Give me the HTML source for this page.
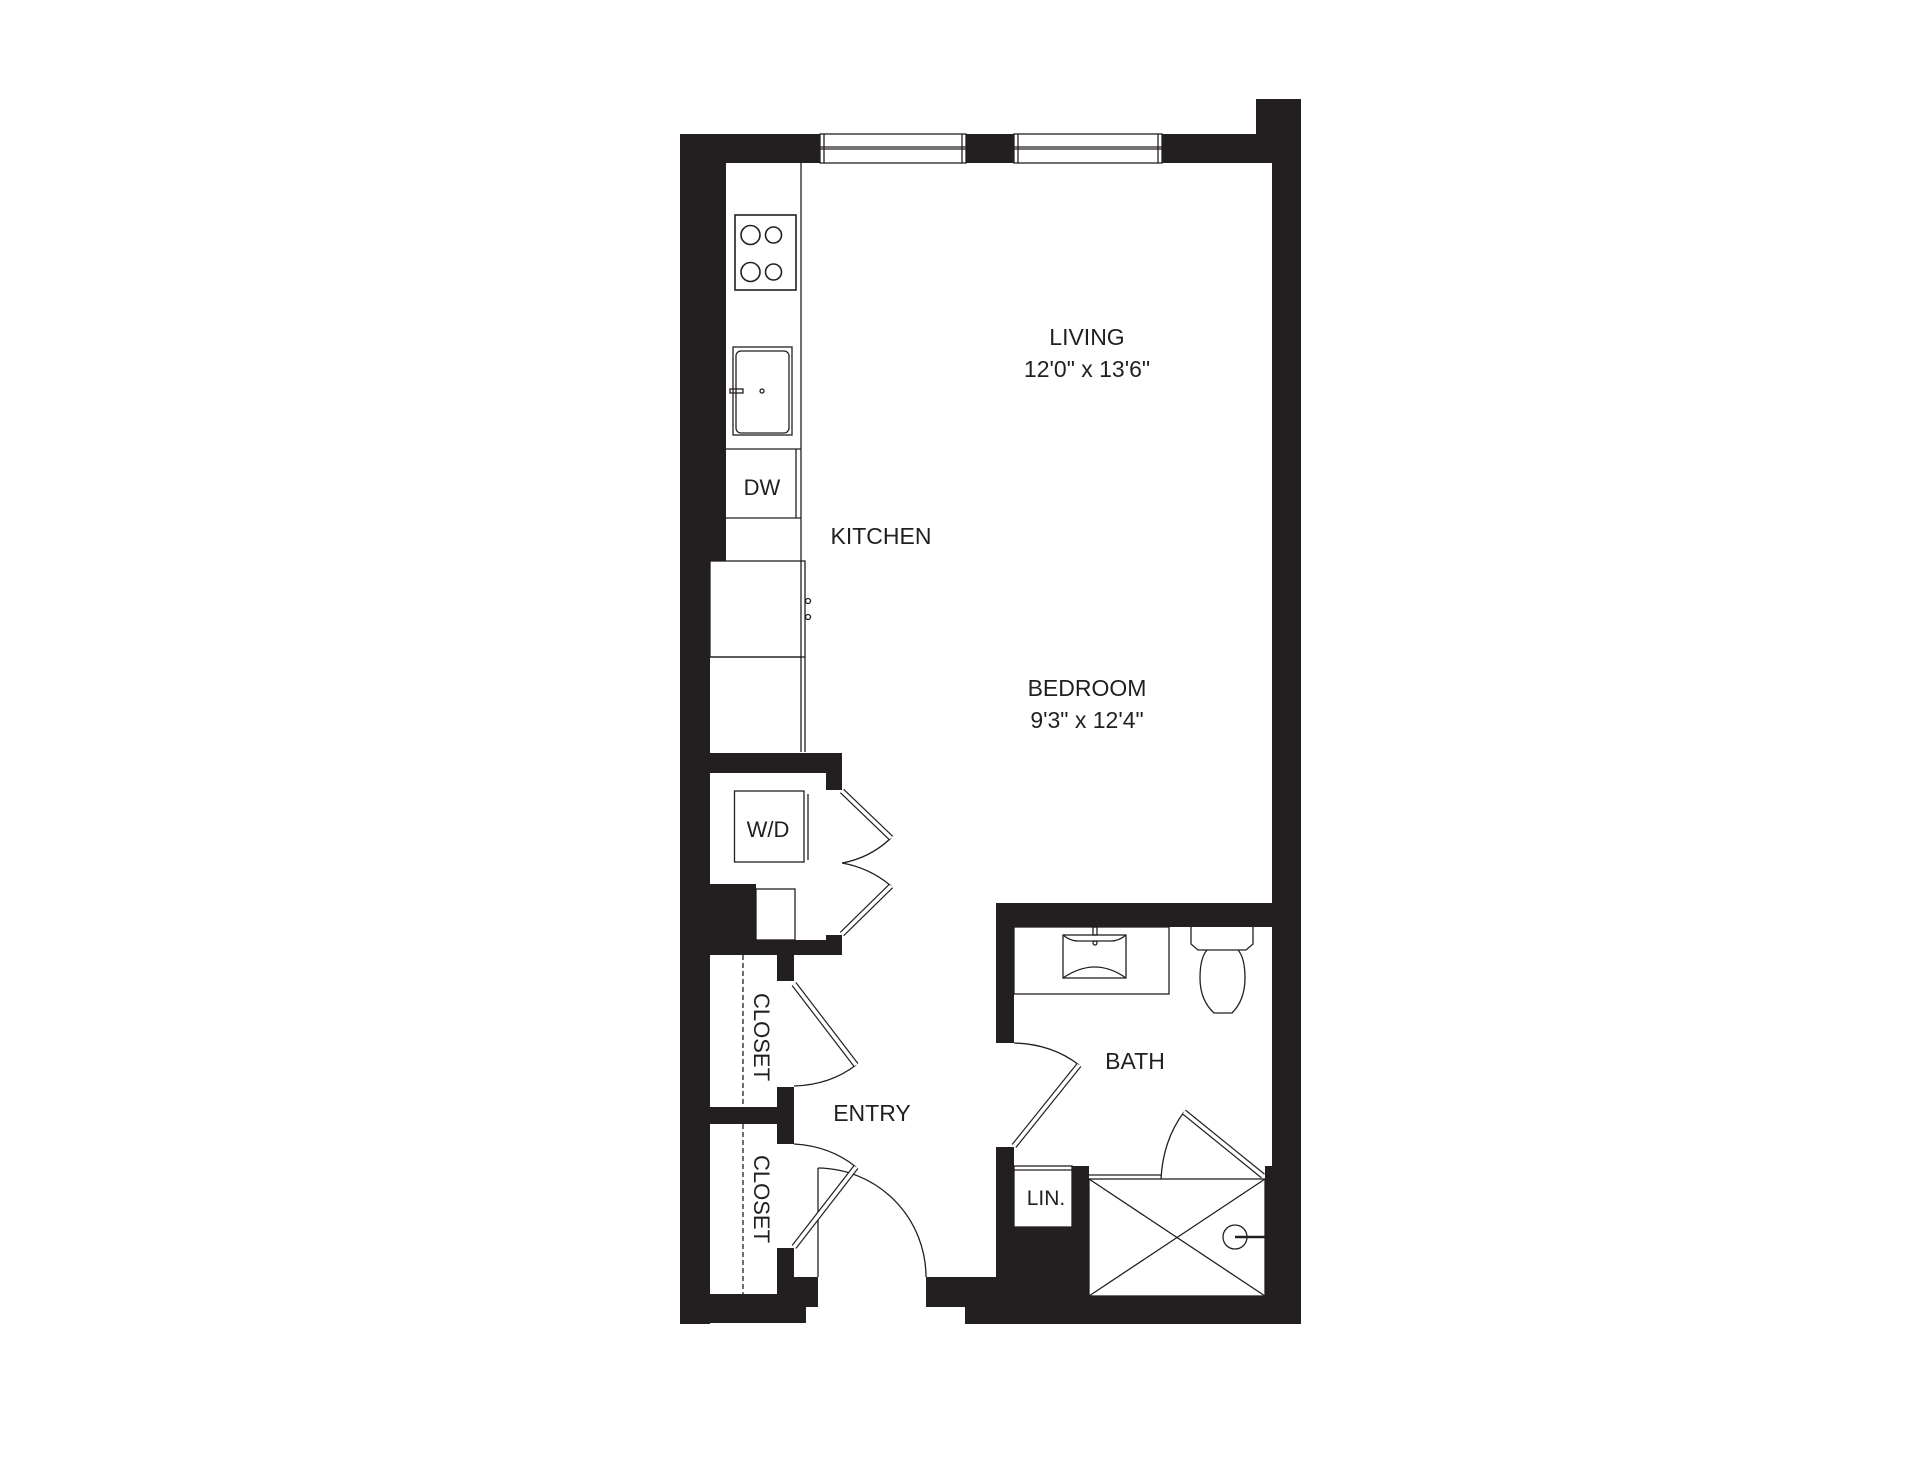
<!DOCTYPE html>
<html><head><meta charset="utf-8"><style>
html,body{margin:0;padding:0;background:#fff;}
svg{display:block;}
text{font-family:"Liberation Sans",sans-serif;fill:#231f20;}
</style></head><body>
<svg width="1920" height="1484" viewBox="0 0 1920 1484" xmlns="http://www.w3.org/2000/svg">
<g fill="#231f20">
<rect x="680" y="134" width="140" height="29"/>
<rect x="966" y="134" width="48" height="29"/>
<rect x="1162" y="134" width="139" height="29"/>
<rect x="1256" y="99" width="45" height="64"/>
<rect x="680" y="134" width="46" height="427"/>
<rect x="680" y="561" width="30" height="763"/>
<rect x="1272" y="99" width="29" height="1225"/>
<rect x="680" y="753" width="162" height="20"/>
<rect x="826" y="753" width="16" height="37"/>
<rect x="680" y="884" width="76" height="56"/>
<rect x="680" y="940" width="162" height="15"/>
<rect x="826" y="935" width="16" height="20"/>
<rect x="777" y="955" width="17" height="26"/>
<rect x="680" y="1107" width="114" height="17"/>
<rect x="777" y="1087" width="17" height="57"/>
<rect x="777" y="1248" width="17" height="46"/>
<rect x="777" y="1277" width="41" height="30"/>
<rect x="680" y="1294" width="126" height="29"/>
<rect x="680" y="1294" width="138" height="13"/>
<rect x="926" y="1277" width="70" height="30"/>
<rect x="965" y="1296" width="336" height="28"/>
<rect x="996" y="903" width="305" height="24"/>
<rect x="996" y="903" width="18" height="140"/>
<rect x="996" y="1147" width="18" height="160"/>
<rect x="1014" y="1227" width="75" height="70"/>
<rect x="1072" y="1166" width="17" height="131"/>
<rect x="1265" y="1166" width="8" height="131"/>
</g>
<g fill="none" stroke="#231f20" stroke-width="1.3">
<rect x="820" y="134" width="146" height="29"/>
<line x1="820" y1="147" x2="966" y2="147"/><line x1="820" y1="149" x2="966" y2="149"/>
<line x1="824" y1="134" x2="824" y2="163"/><line x1="962" y1="134" x2="962" y2="163"/>
<rect x="1014" y="134" width="148" height="29"/>
<line x1="1014" y1="147" x2="1162" y2="147"/><line x1="1014" y1="149" x2="1162" y2="149"/>
<line x1="1018" y1="134" x2="1018" y2="163"/><line x1="1158" y1="134" x2="1158" y2="163"/>
<line x1="801" y1="163" x2="801" y2="752"/>
<rect x="735" y="215" width="61" height="75" stroke-width="1.6"/>
<circle cx="750.5" cy="235" r="9.5" stroke-width="1.6"/><circle cx="773.5" cy="235" r="8" stroke-width="1.6"/>
<circle cx="750.5" cy="272" r="9.5" stroke-width="1.6"/><circle cx="773.5" cy="272" r="8" stroke-width="1.6"/>
<rect x="733" y="347" width="59" height="88"/>
<rect x="736" y="351" width="53" height="82" rx="5"/>
<rect x="730" y="389" width="13" height="4"/>
<circle cx="762" cy="391" r="2"/>
<line x1="726" y1="449" x2="801" y2="449"/><line x1="726" y1="518" x2="801" y2="518"/>
<line x1="796" y1="449" x2="796" y2="518"/>
<rect x="710" y="561" width="95" height="96"/>
<circle cx="808" cy="601" r="2.5"/><circle cx="808" cy="617" r="2.5"/>
<line x1="710" y1="657" x2="801" y2="657"/>
<line x1="805" y1="657" x2="805" y2="752"/>
<rect x="734.5" y="791" width="69.5" height="71"/>
<line x1="808" y1="794" x2="808" y2="860"/>
<rect x="756" y="889" width="39" height="51"/>
<line x1="743" y1="955" x2="743" y2="1107" stroke-dasharray="5,3"/>
<line x1="743" y1="1124" x2="743" y2="1294" stroke-dasharray="5,3"/>
<path d="M891 838 Q870 858 842 863"/>
<path d="M842 863 Q870 868 891 886"/>
<path d="M856 1065 Q830 1085 794 1086"/>
<path d="M794 1144 Q830 1146 856 1167"/>
<line x1="818" y1="1168" x2="818" y2="1277"/>
<path d="M818 1168 A109 109 0 0 1 926 1277"/>
<path d="M1014 1043 Q1052 1044 1079 1065"/>
<rect x="1014" y="927" width="155" height="67"/>
<rect x="1063" y="935" width="63" height="43"/>
<path d="M1063 935 Q1070 941 1078 941 L1111 941 Q1119 941 1126 935"/>
<path d="M1063 978 Q1095 956 1126 978"/>
<rect x="1093" y="927" width="4" height="8"/>
<circle cx="1095" cy="943" r="2"/>
<path d="M1191 927 L1191 944 L1198 950 L1246 950 L1253 944 L1253 927"/>
<path d="M1207 950 Q1200 958 1200 978 Q1200 1000 1214 1013 L1232 1013 Q1245 1000 1245 978 Q1245 958 1238 950"/>
<rect x="1014" y="1166" width="58" height="61"/>
<line x1="1014" y1="1170" x2="1072" y2="1170"/>
<rect x="1089" y="1179" width="176" height="117"/>
<line x1="1089" y1="1175" x2="1161" y2="1175"/>
<line x1="1089" y1="1179" x2="1265" y2="1296"/>
<line x1="1265" y1="1179" x2="1089" y2="1296"/>
<path d="M1184 1112 Q1163 1140 1161 1179"/>
<circle cx="1235" cy="1237" r="12"/>
<line x1="1235" y1="1237" x2="1265" y2="1237" stroke-width="2.5"/>
</g>
<g stroke-linecap="butt">
<g stroke="#231f20" stroke-width="6">
<line x1="842" y1="791" x2="891" y2="838"/>
<line x1="891" y1="886" x2="842" y2="934"/>
<line x1="794" y1="984" x2="856" y2="1065"/>
<line x1="856" y1="1167" x2="794" y2="1247"/>
<line x1="1079" y1="1065" x2="1014" y2="1146"/>
<line x1="1263" y1="1176" x2="1184" y2="1112"/>
</g>
<g stroke="#fff" stroke-width="3.6">
<line x1="842" y1="791" x2="891" y2="838"/>
<line x1="891" y1="886" x2="842" y2="934"/>
<line x1="794" y1="984" x2="856" y2="1065"/>
<line x1="856" y1="1167" x2="794" y2="1247"/>
<line x1="1079" y1="1065" x2="1014" y2="1146"/>
<line x1="1263" y1="1176" x2="1184" y2="1112"/>
</g>
</g>
<g text-anchor="middle" font-size="23">
<text x="1087" y="345">LIVING</text>
<text x="1087" y="377">12'0" x 13'6"</text>
<text x="881" y="544">KITCHEN</text>
<text x="1087" y="696">BEDROOM</text>
<text x="1087" y="728">9'3" x 12'4"</text>
<text x="762" y="495" font-size="22">DW</text>
<text x="768" y="837" font-size="22">W/D</text>
<text x="1135" y="1069">BATH</text>
<text x="872" y="1121">ENTRY</text>
<text x="1046" y="1205" font-size="21">LIN.</text>
<text transform="translate(762,1037) rotate(90)" y="8" font-size="22">CLOSET</text>
<text transform="translate(762,1199) rotate(90)" y="8" font-size="22">CLOSET</text>
</g>
</svg>
</body></html>
